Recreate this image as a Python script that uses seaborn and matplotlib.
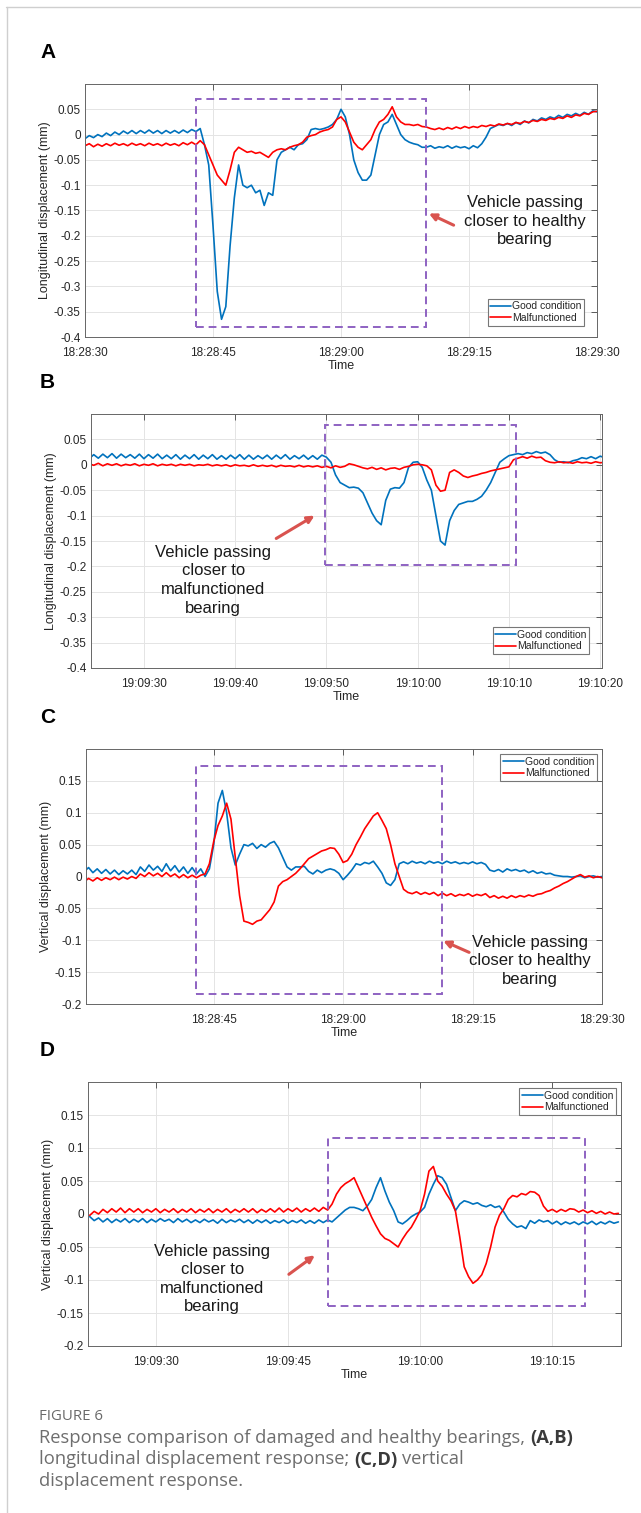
import numpy as np
import pandas as pd
import seaborn as sns
import matplotlib.pyplot as plt
import matplotlib.dates as mdates
from matplotlib.patches import Rectangle
from matplotlib.ticker import FuncFormatter

sns.set_theme(style='white')
plt.rcParams['font.family'] = ['Liberation Sans', 'DejaVu Sans']
plt.rcParams['axes.unicode_minus'] = False

# ---- data (mm), 0.5 s samples ----
# A: longitudinal, 18:28:30 -> 18:29:30
a_good = [-0.008, -0.002, -0.006, 0.0, -0.004, 0.003, -0.002, 0.005, 0.0, 0.007,
          0.002, 0.008, 0.002, 0.008, 0.003, 0.009, 0.003, 0.008, 0.002, 0.008,
          0.003, 0.008, 0.003, 0.009, 0.004, 0.01, 0.006, 0.012, -0.02, -0.06,
          -0.18, -0.31, -0.365, -0.34, -0.22, -0.125, -0.06, -0.1, -0.105, -0.1,
          -0.115, -0.11, -0.14, -0.115, -0.12, -0.05, -0.035, -0.03, -0.025, -0.03,
          -0.02, -0.018, -0.01, 0.01, 0.012, 0.01, 0.012, 0.015, 0.02, 0.03,
          0.05, 0.035, 0.0, -0.05, -0.075, -0.09, -0.09, -0.08, -0.04, 0.0,
          0.02, 0.025, 0.04, 0.02, 0.0, -0.01, -0.015, -0.018, -0.02, -0.025,
          -0.025, -0.022, -0.027, -0.024, -0.026, -0.022, -0.027, -0.023, -0.026, -0.024,
          -0.028, -0.022, -0.026, -0.018, -0.005, 0.012, 0.016, 0.02, 0.018, 0.022,
          0.018, 0.024, 0.02, 0.027, 0.023, 0.03, 0.027, 0.033, 0.03, 0.035,
          0.032, 0.038, 0.034, 0.04, 0.037, 0.042, 0.038, 0.044, 0.04, 0.047,
          0.045]
a_bad = [-0.022, -0.018, -0.024, -0.019, -0.023, -0.018, -0.022, -0.017, -0.021, -0.018,
         -0.022, -0.017, -0.021, -0.018, -0.022, -0.017, -0.021, -0.018, -0.022, -0.017,
         -0.021, -0.018, -0.022, -0.016, -0.02, -0.015, -0.02, -0.012, -0.02, -0.04,
         -0.06, -0.08, -0.09, -0.1, -0.07, -0.035, -0.025, -0.03, -0.035, -0.033,
         -0.037, -0.035, -0.04, -0.045, -0.035, -0.03, -0.028, -0.03, -0.025, -0.022,
         -0.02, -0.015, -0.005, -0.002, 0.0, 0.005, 0.008, 0.01, 0.015, 0.03,
         0.035, 0.025, 0.005, -0.015, -0.025, -0.03, -0.02, -0.01, 0.01, 0.025,
         0.03, 0.04, 0.055, 0.035, 0.025, 0.02, 0.02, 0.018, 0.02, 0.016,
         0.015, 0.012, 0.01, 0.013, 0.01, 0.014, 0.011, 0.015, 0.012, 0.016,
         0.013, 0.016, 0.014, 0.018, 0.016, 0.019, 0.017, 0.021, 0.019, 0.022,
         0.02, 0.024, 0.022, 0.026, 0.024, 0.028, 0.026, 0.03, 0.028, 0.032,
         0.03, 0.034, 0.032, 0.037, 0.034, 0.039, 0.037, 0.042, 0.04, 0.045,
         0.046]

# B: longitudinal, 19:09:24 -> 19:10:20.5
b_good = [0.012, 0.02, 0.013, 0.021, 0.014, 0.022, 0.013, 0.021, 0.014, 0.02,
          0.013, 0.021, 0.012, 0.02, 0.013, 0.021, 0.012, 0.019, 0.012, 0.02,
          0.011, 0.019, 0.012, 0.02, 0.011, 0.019, 0.012, 0.02, 0.011, 0.018,
          0.011, 0.019, 0.012, 0.02, 0.011, 0.019, 0.011, 0.018, 0.012, 0.019,
          0.011, 0.019, 0.012, 0.02, 0.011, 0.018, 0.012, 0.019, 0.011, 0.018,
          0.011, 0.019, 0.015, 0.005, -0.02, -0.035, -0.04, -0.045, -0.044, -0.046,
          -0.055, -0.075, -0.095, -0.11, -0.118, -0.07, -0.048, -0.045, -0.046, -0.035,
          -0.005, 0.005, 0.006, -0.005, -0.03, -0.05, -0.1, -0.15, -0.158, -0.11,
          -0.09, -0.078, -0.075, -0.072, -0.072, -0.068, -0.062, -0.05, -0.035, -0.015,
          0.005, 0.012, 0.018, 0.02, 0.022, 0.02, 0.024, 0.022, 0.026, 0.023,
          0.025, 0.02, 0.01, 0.005, 0.006, 0.004, 0.008, 0.01, 0.014, 0.012,
          0.016, 0.012, 0.017, 0.014]
b_bad = [0.002, -0.001, 0.003, -0.002, 0.002, -0.001, 0.002, -0.002, 0.001, -0.001,
         0.002, -0.002, 0.001, -0.001, 0.002, -0.002, 0.001, -0.001, 0.001, -0.002,
         0.001, -0.001, 0.001, -0.002, 0.0, -0.001, 0.001, -0.002, 0.0, -0.002,
         0.0, -0.003, 0.0, -0.002, -0.001, -0.003, 0.0, -0.003, -0.001, -0.003,
         -0.001, -0.004, -0.001, -0.003, -0.002, -0.004, -0.001, -0.004, -0.002, -0.004,
         -0.002, -0.005, -0.003, -0.006, -0.002, -0.005, -0.003, 0.002, 0.0, -0.003,
         -0.006, -0.008, -0.005, -0.009, -0.006, -0.01, -0.007, -0.006, -0.009, -0.005,
         -0.003, 0.0, 0.001, 0.0, -0.002, -0.01, -0.04, -0.052, -0.05, -0.015,
         -0.01, -0.015, -0.022, -0.025, -0.022, -0.02, -0.017, -0.015, -0.012, -0.01,
         -0.008, -0.006, -0.004, 0.01, 0.013, 0.016, 0.013, 0.017, 0.014, 0.015,
         0.008, 0.005, 0.004, 0.006, 0.004, 0.005, 0.003, 0.006, 0.004, 0.005,
         0.003, 0.006, 0.004, 0.005]

# C: vertical, 18:28:30 -> 18:29:30
c_good = [0.008, 0.014, 0.006, 0.012, 0.005, 0.011, 0.004, 0.01, 0.003, 0.009,
          0.004, 0.01, 0.003, 0.015, 0.008, 0.018, 0.01, 0.016, 0.008, 0.02,
          0.009, 0.017, 0.007, 0.015, 0.005, 0.014, 0.004, 0.012, 0.0, 0.012,
          0.05, 0.115, 0.135, 0.1, 0.045, 0.018, 0.035, 0.05, 0.048, 0.052,
          0.044, 0.05, 0.046, 0.052, 0.055, 0.045, 0.03, 0.015, 0.01, 0.015,
          0.015, 0.016, 0.008, 0.004, 0.01, 0.006, 0.01, 0.012, 0.01, 0.005,
          -0.005, 0.002, 0.01, 0.02, 0.018, 0.022, 0.02, 0.024, 0.015, 0.005,
          -0.01, -0.014, -0.005, 0.02, 0.023, 0.02, 0.024, 0.021, 0.023, 0.02,
          0.024, 0.021, 0.023, 0.02, 0.024, 0.021, 0.023, 0.02, 0.022, 0.02,
          0.023, 0.02, 0.022, 0.019, 0.01, 0.008, 0.011, 0.007, 0.012, 0.009,
          0.011, 0.008, 0.01, 0.006, 0.009, 0.005, 0.007, 0.004, 0.005, 0.002,
          0.001, 0.0, 0.0, -0.001, 0.0, 0.001, -0.002, 0.0, 0.001, -0.001,
          0.0]
c_bad = [-0.008, -0.003, -0.007, -0.002, -0.006, -0.002, -0.005, -0.001, -0.005, -0.001,
         -0.004, 0.0, -0.003, 0.004, 0.0, 0.006, 0.001, 0.005, 0.0, 0.006,
         0.0, 0.004, -0.002, 0.003, -0.002, 0.002, -0.002, 0.002, 0.004, 0.02,
         0.055, 0.08, 0.095, 0.115, 0.09, 0.03, -0.03, -0.07, -0.072, -0.075,
         -0.07, -0.068, -0.06, -0.052, -0.04, -0.015, -0.008, -0.005, 0.0, 0.005,
         0.012, 0.02, 0.028, 0.032, 0.036, 0.04, 0.042, 0.045, 0.044, 0.035,
         0.022, 0.025, 0.035, 0.05, 0.062, 0.075, 0.085, 0.095, 0.1, 0.088,
         0.075, 0.05, 0.02, 0.0, -0.02, -0.025, -0.027, -0.024, -0.028, -0.025,
         -0.028, -0.025, -0.03, -0.026, -0.03, -0.027, -0.031, -0.028, -0.03, -0.027,
         -0.031, -0.028, -0.03, -0.027, -0.033, -0.03, -0.034, -0.031, -0.034, -0.03,
         -0.033, -0.03, -0.032, -0.029, -0.031, -0.028, -0.027, -0.024, -0.022, -0.018,
         -0.015, -0.011, -0.008, -0.004, 0.0, 0.003, -0.001, 0.001, -0.002, 0.0,
         -0.002]

# D: vertical, 19:09:22.5 -> 19:10:22.5
d_good = [-0.004, -0.01, -0.006, -0.012, -0.007, -0.013, -0.008, -0.012, -0.007, -0.013,
          -0.008, -0.012, -0.007, -0.013, -0.008, -0.012, -0.007, -0.011, -0.008, -0.013,
          -0.007, -0.012, -0.008, -0.013, -0.009, -0.013, -0.008, -0.012, -0.009, -0.014,
          -0.008, -0.013, -0.009, -0.012, -0.008, -0.013, -0.009, -0.014, -0.009, -0.013,
          -0.009, -0.014, -0.01, -0.013, -0.009, -0.014, -0.01, -0.013, -0.009, -0.014,
          -0.01, -0.014, -0.009, -0.013, -0.009, -0.012, -0.006, 0.0, 0.006, 0.01,
          0.01, 0.008, 0.005, 0.012, 0.022, 0.04, 0.055, 0.035, 0.018, 0.005,
          -0.012, -0.015, -0.01, -0.004, 0.0, 0.003, 0.01, 0.03, 0.045, 0.058,
          0.055, 0.045, 0.025, 0.005, 0.015, 0.02, 0.018, 0.015, 0.017, 0.013,
          0.011, 0.014, 0.01, 0.012, 0.003, -0.008, -0.015, -0.02, -0.018, -0.022,
          -0.01, -0.014, -0.009, -0.012, -0.01, -0.015, -0.011, -0.016, -0.012, -0.015,
          -0.012, -0.016, -0.012, -0.015, -0.011, -0.016, -0.012, -0.015, -0.011, -0.014,
          -0.012]
d_bad = [-0.002, 0.004, 0.0, 0.007, 0.002, 0.008, 0.003, 0.009, 0.002, 0.008,
         0.003, 0.008, 0.002, 0.007, 0.003, 0.008, 0.002, 0.007, 0.003, 0.008,
         0.002, 0.007, 0.003, 0.008, 0.002, 0.007, 0.003, 0.008, 0.002, 0.007,
         0.003, 0.008, 0.002, 0.007, 0.003, 0.008, 0.003, 0.008, 0.002, 0.007,
         0.003, 0.008, 0.003, 0.009, 0.003, 0.008, 0.004, 0.009, 0.003, 0.008,
         0.004, 0.009, 0.004, 0.01, 0.006, 0.015, 0.03, 0.04, 0.046, 0.05,
         0.055, 0.04, 0.025, 0.01, -0.005, -0.018, -0.03, -0.037, -0.04, -0.045,
         -0.05, -0.038, -0.028, -0.02, -0.008, 0.005, 0.03, 0.065, 0.072, 0.05,
         0.042, 0.03, 0.02, 0.005, -0.035, -0.08, -0.095, -0.105, -0.1, -0.092,
         -0.075, -0.05, -0.02, -0.002, 0.008, 0.022, 0.028, 0.026, 0.031, 0.029,
         0.034, 0.033, 0.028, 0.012, 0.004, 0.007, 0.003, 0.007, 0.004, 0.008,
         0.007, 0.003, 0.006, 0.002, 0.005, 0.001, 0.004, 0.0, 0.003, 0.0,
         0.001]

labels = ['Good condition', 'Malfunctioned']
colors = {'Good condition': '#0072BD', 'Malfunctioned': '#FF0000'}
long_label = 'Longitudinal displacement (mm)'
vert_label = 'Vertical displacement (mm)'
note_healthy = 'Vehicle passing\ncloser to healthy\nbearing'
note_bad = 'Vehicle passing\ncloser to\nmalfunctioned\nbearing'
day = '2023-01-01 '


def ts(s):
    return pd.Timestamp(day + s)


def dn(s):
    return mdates.date2num(ts(s))


def ytick_fmt(v, pos):
    return f'{round(v, 3) + 0.0:g}'


W, H = 641, 1513
fig = plt.figure(figsize=(W / 100, H / 100), dpi=100)


def px_axes(l, t, r, b):
    return fig.add_axes([l / W, 1 - b / H, (r - l) / W, (b - t) / H])


panels = [
    dict(letter='A', box=(85, 84, 597, 337), start='18:28:30', good=a_good, bad=a_bad,
         xlim=('18:28:30', '18:29:30'), secs=[0, 15, 30, 45], ylim=(-0.4, 0.1),
         yticks=np.round(np.arange(-0.4, 0.051, 0.05), 2), ylabel=long_label,
         leg=('lower right', (0.975, 0.045)),
         rect=('18:28:43', '18:29:10', -0.38, 0.071),
         note=(note_healthy, '18:29:21.6', -0.171), arrow=('18:29:13.2', -0.179, '18:29:10.3', -0.156)),
    dict(letter='B', box=(91, 414, 602, 668), start='19:09:24', good=b_good, bad=b_bad,
         xlim=('19:09:24.2', '19:10:20.2'), secs=[0, 10, 20, 30, 40, 50], ylim=(-0.4, 0.1),
         yticks=np.round(np.arange(-0.4, 0.051, 0.05), 2), ylabel=long_label,
         leg=('lower right', (0.975, 0.055)),
         rect=('19:09:49.8', '19:10:10.8', -0.197, 0.078),
         note=(note_bad, '19:09:37.6', -0.227), arrow=('19:09:44.5', -0.145, '19:09:48.7', -0.1)),
    dict(letter='C', box=(86, 749, 602, 1004), start='18:28:30', good=c_good, bad=c_bad,
         xlim=('18:28:30.2', '18:29:30'), secs=[0, 15, 30, 45], ylim=(-0.2, 0.2),
         yticks=np.round(np.arange(-0.2, 0.151, 0.05), 2), ylabel=vert_label,
         leg=('upper right', (0.99, 0.98)),
         rect=('18:28:42.9', '18:29:11.45', -0.184, 0.174),
         note=(note_healthy, '18:29:21.6', -0.132), arrow=('18:29:14.6', -0.119, '18:29:11.6', -0.101)),
    dict(letter='D', box=(88, 1082, 621, 1346), start='19:09:22.5', good=d_good, bad=d_bad,
         xlim=('19:09:22.3', '19:10:22.8'), secs=[0, 15, 30, 45], ylim=(-0.2, 0.2),
         yticks=np.round(np.arange(-0.2, 0.151, 0.05), 2), ylabel=vert_label,
         leg=('upper right', (0.99, 0.977)),
         rect=('19:09:49.5', '19:10:18.7', -0.14, 0.115),
         note=(note_bad, '19:09:36.4', -0.0985), arrow=('19:09:45.1', -0.0914, '19:09:48.05', -0.0626)),
]

for p in panels:
    l, t, r, b = p['box']
    ax = px_axes(l, t, r, b)
    n = len(p['good'])
    times = pd.date_range(ts(p['start']), periods=n, freq='500ms')
    df = pd.DataFrame({
        'Time': list(times) * 2,
        'disp': p['good'] + p['bad'],
        'cond': [labels[0]] * n + [labels[1]] * n,
    })
    sns.lineplot(data=df, x='Time', y='disp', hue='cond', hue_order=labels,
                 palette=colors, lw=1.2, estimator=None, ax=ax)

    ax.set_xlim(ts(p['xlim'][0]), ts(p['xlim'][1]))
    ax.set_ylim(*p['ylim'])
    ax.set_yticks(p['yticks'])
    ax.yaxis.set_major_formatter(FuncFormatter(ytick_fmt))
    ax.xaxis.set_major_locator(mdates.SecondLocator(bysecond=p['secs']))
    ax.xaxis.set_major_formatter(mdates.DateFormatter('%H:%M:%S'))
    ax.grid(True, color='#e4e4e4', lw=0.7)
    ax.tick_params(direction='in', length=4, width=0.6, top=True, right=True,
                   labelsize=8.5, pad=3, color='#444444', labelcolor='#262626')
    ax.tick_params(axis='x', pad=7)
    for s in ax.spines.values():
        s.set_color('#666666')
        s.set_linewidth(0.7)
    ax.set_xlabel('Time', fontsize=9, color='#262626', labelpad=1)
    ax.set_ylabel(p['ylabel'], fontsize=9, color='#262626', labelpad=2)

    sns.move_legend(ax, p['leg'][0], bbox_to_anchor=p['leg'][1], title=None,
                    fontsize=7.5, frameon=True, fancybox=False, framealpha=1,
                    edgecolor='#777777', borderaxespad=0, borderpad=0.25,
                    handlelength=2.0, handletextpad=0.1, labelspacing=0.15)
    ax.get_legend().get_frame().set_linewidth(0.8)

    x0, x1, y0, y1 = p['rect']
    ax.add_patch(Rectangle((dn(x0), y0), dn(x1) - dn(x0), y1 - y0, fill=False,
                           ec='#8e62c2', lw=1.4, ls=(0, (4, 2.5)), zorder=4))

    txt, tx, ty = p['note']
    ax.text(dn(tx), ty, txt, ha='center', va='center', fontsize=12,
            linespacing=1.3, color='#1a1a1a', zorder=5)
    ax0, ay0, ax1, ay1 = p['arrow']
    ax.annotate('', xy=(dn(ax1), ay1), xytext=(dn(ax0), ay0),
                arrowprops=dict(arrowstyle='-|>', color='#d9534f', lw=2.2,
                                mutation_scale=10, shrinkA=0, shrinkB=0), zorder=5)

    fig.text(40 / W, 1 - (t - 32) / H, p['letter'], fontsize=15, fontweight='bold',
             va='center', ha='left', color='black')

# page frame
fig.add_artist(plt.Line2D([6.5 / W, 6.5 / W], [0, 1 - 7 / H], transform=fig.transFigure,
                          color='#cfcfcf', lw=1))
fig.add_artist(plt.Line2D([6 / W, 1], [1 - 7 / H, 1 - 7 / H], transform=fig.transFigure,
                          color='#cfcfcf', lw=1))

# caption
cap = dict(family=['Open Sans', 'DejaVu Sans'], fontsize=13.2, va='center', ha='left')
fig.text(39 / W, 1 - 1416 / H, 'FIGURE 6', family=['Open Sans', 'DejaVu Sans'],
         fontsize=10.8, color='#6a6a6a', va='center', ha='left')
renderer = fig.canvas.get_renderer()
gap = 4.8
lines = [
    [('Response comparison of damaged and healthy bearings,', False), ('(A,B)', True)],
    [('longitudinal displacement response;', False), ('(C,D)', True), ('vertical', False)],
    [('displacement response.', False)],
]
for i, parts in enumerate(lines):
    x = 39
    y = 1 - (1438 + 21.5 * i) / H
    for s, bold in parts:
        tt = fig.text(x / W, y, s, color='#3a3a3a' if bold else '#6e6e6e',
                      fontweight='bold' if bold else 'normal', **cap)
        bb = tt.get_window_extent(renderer=renderer)
        x = bb.x1 + gap

fig.savefig('out.png', dpi=100)
